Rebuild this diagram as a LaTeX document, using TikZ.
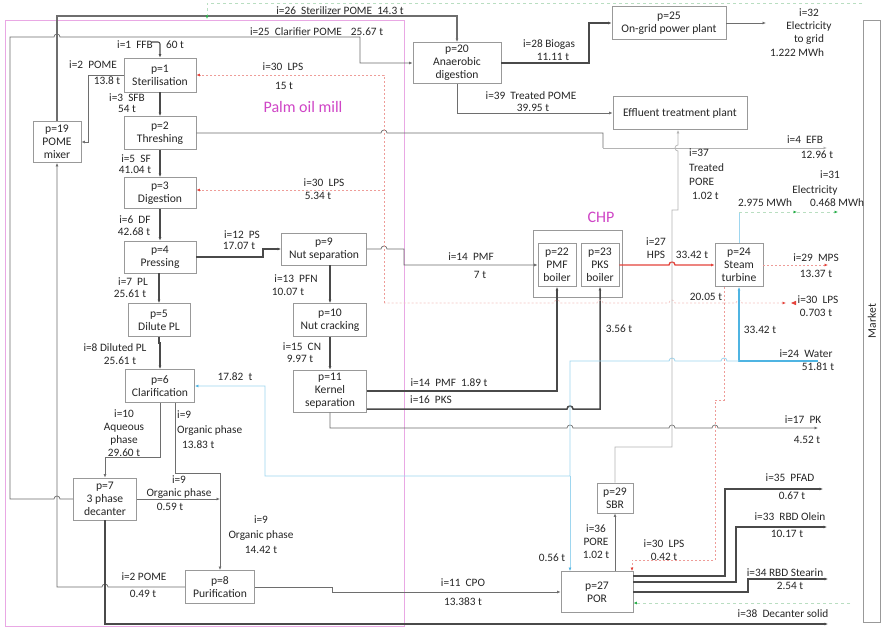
\documentclass[tikz,border=0pt]{standalone}
\usepackage{fontspec}
\setmainfont{Carlito}
\usetikzlibrary{arrows.meta}

\definecolor{ink}{HTML}{262626}
\definecolor{boxline}{HTML}{999999}
\definecolor{pipe}{HTML}{6E6E6E}
\definecolor{pipedark}{HTML}{4A4A4A}
\definecolor{pipefaint}{HTML}{B4B4B4}
\definecolor{millpink}{HTML}{CF45C6}
\definecolor{millframe}{HTML}{E9A8E4}
\definecolor{steam}{HTML}{E4433B}
\definecolor{steamlight}{HTML}{EE9C98}
\definecolor{water}{HTML}{4FB4E2}
\definecolor{waterlight}{HTML}{9ED6EF}
\definecolor{power}{HTML}{25AE48}
\definecolor{powerlight}{HTML}{B9DEC1}

\newcommand\nodefont{\fontsize{11.6}{13}\selectfont}
\newcommand\labfont{\fontsize{11.3}{13}\selectfont}
\newcommand\titlefont{\fontsize{16}{18}\selectfont}

\tikzset{
  proc/.style={draw=boxline, line width=0.9pt, fill=white, align=center,
               inner sep=0pt, font=\nodefont, text=ink},
  lab/.style={align=center, inner sep=0pt, font=\labfont, text=ink},
  labl/.style={align=left, inner sep=0pt, font=\labfont, text=ink},
  title/.style={inner sep=0pt, font=\titlefont, text=millpink},
  thinflow/.style={draw=pipe, line width=0.7pt},
  midflow/.style={draw=pipedark, line width=1.1pt},
  heavyflow/.style={draw=pipedark, line width=1.5pt},
  faintflow/.style={draw=pipefaint, line width=0.7pt},
  hps/.style={draw=steam, line width=1.3pt},
  lps/.style={draw=steamlight, line width=0.8pt, dash pattern=on 2pt off 2pt},
  lpsfaint/.style={draw=steamlight!60, line width=0.7pt, dash pattern=on 2pt off 2pt},
  waterheavy/.style={draw=water, line width=1.5pt},
  waterthin/.style={draw=waterlight, line width=0.8pt},
  powerdash/.style={draw=powerlight, line width=0.7pt, dash pattern=on 3pt off 3pt},
  arr/.style={-{Latex[length=3.5pt,width=3pt]}},
  redarr/.style={-{Latex[length=3.5pt,width=3pt,color=steam]}},
  bluearr/.style={-{Latex[length=3.5pt,width=3pt,color=water]}},
  greenarr/.style={-{Latex[length=3.5pt,width=3pt,color=power]}},
}

\begin{document}
\begin{tikzpicture}[x=1pt,y=-1pt]
\useasboundingbox (0,0) rectangle (885,628);
\fill[white] (0,0) rectangle (885,628);

% ---------- boundaries ----------
\draw[millframe, line width=0.9pt] (5,20) rectangle (404,626);
\node[title] (millname) at (303,107) {Palm oil mill};
\node[title] (chpname) at (601,217) {CHP};
\node[draw=boxline, line width=0.9pt, minimum width=89, minimum height=67] (chp) at (577.5,263.5) {};
\node[proc, rotate=90, minimum width=602, minimum height=17] (market) at (872,321) {Market};

% ---------- process units ----------
\node[proc, minimum width=72, minimum height=34] (p1) at (160,75) {p=1\\Sterilisation};
\node[proc, minimum width=72, minimum height=33] (p2) at (160,133) {p=2\\Threshing};
\node[proc, minimum width=72, minimum height=31] (p3) at (160,193) {p=3\\Digestion};
\node[proc, minimum width=72, minimum height=32] (p4) at (160,257) {p=4\\Pressing};
\node[proc, minimum width=62, minimum height=33] (p5) at (159,320) {p=5\\Dilute PL};
\node[proc, minimum width=69, minimum height=33] (p6) at (160,386) {p=6\\Clarification};
\node[proc, minimum width=63, minimum height=42] (p7) at (105,499) {p=7\\3 phase\\decanter};
\node[proc, minimum width=69, minimum height=33] (p8) at (220,587) {p=8\\Purification};
\node[proc, minimum width=48, minimum height=41] (p19) at (57,142) {p=19\\POME\\mixer};
\node[proc, minimum width=85, minimum height=32] (p9) at (324,249) {p=9\\Nut separation};
\node[proc, minimum width=73, minimum height=33] (p10) at (330,320) {p=10\\Nut cracking};
\node[proc, minimum width=73, minimum height=42] (p11) at (330,391) {p=11\\Kernel\\separation};
\node[proc, minimum width=88, minimum height=41] (p20) at (457,63) {p=20\\Anaerobic\\digestion};
\node[proc, minimum width=114, minimum height=33] (p25) at (669,23) {p=25\\On-grid power plant};
\node[proc, minimum width=134, minimum height=33] (etp) at (680,113) {Effluent treatment plant};
\node[proc, minimum width=38, minimum height=43] (p22) at (557,265) {p=22\\PMF\\boiler};
\node[proc, minimum width=38, minimum height=43] (p23) at (600,265) {p=23\\PKS\\boiler};
\node[proc, minimum width=48, minimum height=43] (p24) at (739,265) {p=24\\Steam\\turbine};
\node[proc, minimum width=36, minimum height=30] (p29) at (615,498) {p=29\\SBR};
\node[proc, minimum width=72, minimum height=41] (p27) at (597,592) {p=27\\POR};

% ---------- free ends and junctions ----------
\coordinate (ffbin) at (152,42);
\coordinate (gridout) at (766,23);
\coordinate (efbturn) at (603,148);
\coordinate (efbout) at (827,148);
\coordinate (mpsout) at (828,265);
\coordinate (lpshub) at (724,303);
\coordinate (lpsjoin) at (384,190);
\coordinate (lpsout) at (786,303);
\coordinate (waterin) at (818,361);
\coordinate (waterjoin) at (739,361);
\coordinate (watersplit) at (570,476);
\coordinate (pkout) at (818,428);
\coordinate (pfadout) at (823,489);
\coordinate (oleinout) at (827,527);
\coordinate (stearinout) at (828,579);
\coordinate (solidout) at (828,624);
\coordinate (orgjoin) at (220,499);
\coordinate (elecA) at (797,212);
\coordinate (elecB) at (838,212);
\coordinate (millpower) at (207,19);
\coordinate (powerfeed) at (862,3);
\coordinate (porpower) at (850,603);

% ---------- palm oil mill line ----------
\draw[midflow, arr, rounded corners=2] (ffbin) -| (p1.north);
\draw[heavyflow, arr] (p1.south) -- (p2.north);
\draw[heavyflow, arr] (p2.south) -- (p3.north);
\draw[heavyflow, arr] (p3.south) -- (p4.north);
\draw[heavyflow, arr] (p4.south -| p5.north) -- (p5.north);
\draw[midflow, arr] (p5.south) -- ++(0,6) -| (p6.north);

% POME streams
\draw[thinflow, arr] (p1.west) -- (88,75) |- (p19.east);
\draw[draw=pipe, line width=1.1pt, arr] (p19.north) -- (57,16) -| (p20.north);
\draw[thinflow, arr] (p7.west) -- (60,499) arc[start angle=0, end angle=-180, radius=3]
  -- (10,499) -- (10,37) -- (54,37) arc[start angle=180, end angle=360, radius=3]
  -- (360,37) -- (360,63) -- (p20.west);
\draw[thinflow, arr] (p8.west) -- (108,587) arc[start angle=0, end angle=-180, radius=3]
  -- (57,587) -- (p19.south);

% nut line
\draw[heavyflow, arr] (p4.east) -- (263,257) -- (263,249) -- (p9.west);
\draw[midflow, arr] (p9.south -| p10.north) -- (p10.north);
\draw[midflow, arr] (p10.south) -- (p11.north);
\draw[thinflow, arr] (p9.east) -- (381,249) arc[start angle=180, end angle=360, radius=3]
  -- (404,249) -- (404,265) -- (p22.west);
\draw[heavyflow, arr] (p11.east) -| (p22.south);
\draw[heavyflow, arr] (p11.east |- 0,409) -- (567,409) arc[start angle=180, end angle=360, radius=3]
  -- (600,409) -- (p23.south);
\draw[thinflow, arr] (p11.south) -- (330,428) -- (567,428) arc[start angle=180, end angle=360, radius=3]
  -- (669,428) arc[start angle=180, end angle=360, radius=3]
  -- (712,428) arc[start angle=180, end angle=360, radius=3] -- (pkout);

% empty fruit bunches
\draw[thinflow] (p2.east) -- (381,133) arc[start angle=180, end angle=360, radius=3]
  -- (603,133) -- (efbturn);
\draw[faintflow, arr] (efbturn) -- (efbout);

% clarification and decanting
\draw[thinflow, arr] (p6.south) -- (160,457) -| (p7.north);
\draw[thinflow, arr] (p6.south -| 175,0) -- (175,473) -| (p8.north);
\draw[thinflow, arr] (p7.east) -- (orgjoin);
\draw[thinflow, arr] (p8.east) -- (332,587) -- (332,592) -- (p27.west);
\draw[heavyflow, arr] (p7.south) -- (105,624) -- (solidout);

% digester, biogas and effluent
\draw[midflow, arr] (p20.east) -- (589,63) |- (p25.west);
\draw[thinflow, arr] (p25.east) -- (gridout);
\draw[thinflow, arr] (p20.south) |- (etp.west);

% ---------- CHP ----------
\draw[hps, redarr] (p23.east) -- (669,265) arc[start angle=180, end angle=360, radius=3] -- (p24.west);
\draw[lps, redarr] (p24.east) -- (mpsout);
\draw[lps] (p24.south -| lpshub) -- (lpshub);
\draw[lpsfaint] (lpshub) -- (675,303) arc[start angle=0, end angle=-180, radius=3]
  -- (603,303) arc[start angle=0, end angle=-180, radius=3]
  -- (560,303) arc[start angle=0, end angle=-180, radius=3] -- (384,303);
\draw[lps, redarr] (384,303) -- (384,75) -- (p1.east);
\draw[lps, redarr] (lpsjoin) -- (p3.east |- lpsjoin);
\draw[lpsfaint, redarr] (lpshub) -- (736,303) arc[start angle=180, end angle=360, radius=3] -- (lpsout);
\fill[steam] (791,303) -- (796,300.8) -- (796,305.2) -- cycle;
\draw[lps, redarr] (lpshub) -- (724,400) -- (715,400) -- (715,560) -- (632,560) -- (p27.north -| 632,0);

% water
\draw[waterheavy, bluearr] (waterin) -- (waterjoin) -- (p24.south);
\draw[waterthin, bluearr] (waterjoin) -- (727,361) arc[start angle=0, end angle=-180, radius=3]
  -- (675,361) arc[start angle=0, end angle=-180, radius=3]
  -- (570,361) -- (watersplit) -- (265,476) -- (265,386) -- (p6.east);
\draw[waterthin, bluearr] (watersplit) -- (p27.north -| watersplit);

% electricity
\draw[waterthin] (p24.north) -- (739,212);
\draw[powerdash, greenarr] (739,212) -- (elecA);
\draw[powerdash, greenarr] (elecA) -- (elecB);
\draw[powerdash, greenarr] (powerfeed) -- (207,3) -- (millpower);
\draw[powerdash, greenarr] (porpower) -- (p27.east |- porpower);

% ---------- refinery ----------
\draw[thinflow, arr] (p27.north -| p29.south) -- (p29.south);
\draw[faintflow, arr] (p29.north) -- (615,447) -- (672,447) -- (672,210) -- (678,210)
  -- (678,151) arc[start angle=90, end angle=270, radius=3] -- (etp.south -| 678,0);
\draw[heavyflow, arr] (p27.east |- 0,576) -- (725,576) -- (725,489) -- (pfadout);
\draw[heavyflow, arr] (p27.east |- 0,582) -- (736,582) -- (736,527) -- (oleinout);
\draw[heavyflow, arr] (p27.east |- 0,592) -- (748,592) -- (748,579) -- (stearinout);

% ---------- stream labels ----------
\node[lab] (t26) at (340,11) {i=26~ Sterilizer POME~ 14.3 t};
\node[lab] (t25) at (296,32) {i=25~ Clarifier POME};
\node[lab] (t25m) at (367,32) {25.67 t};
\node[lab] (t1) at (135,45) {i=1~ FFB};
\node[lab] (t1m) at (175,45) {60 t};
\node[lab] (t2) at (93,65) {i=2~ POME};
\node[lab] (t2m) at (107,81) {13.8 t};
\node[lab] (t30a) at (283,67) {i=30~ LPS};
\node[lab] (t30am) at (284,86) {15 t};
\node[lab] (t3) at (127,98) {i=3~ SFB};
\node[lab] (t3m) at (127,109) {54 t};
\node[lab] (t5) at (136,159) {i=5~ SF};
\node[lab] (t5m) at (135,170) {41.04 t};
\node[lab] (t30b) at (324,183) {i=30~ LPS};
\node[lab] (t30bm) at (318,196) {5.34 t};
\node[lab] (t6) at (135,220) {i=6~ DF};
\node[lab] (t6m) at (134,232) {42.68 t};
\node[lab] (t12) at (242,235) {i=12~ PS};
\node[lab] (t12m) at (239,246) {17.07 t};
\node[lab] (t7) at (133,282) {i=7~ PL};
\node[lab] (t7m) at (130,294) {25.61 t};
\node[lab] (t13) at (296,279) {i=13~ PFN};
\node[lab] (t13m) at (288,292) {10.07 t};
\node[lab] (t8) at (115,348) {i=8 Diluted PL};
\node[lab] (t8m) at (120,361) {25.61 t};
\node[lab] (t15) at (302,347) {i=15~ CN};
\node[lab] (t15m) at (300,359) {9.97 t};
\node[lab] (tw6) at (235,377) {17.82~ t};
\node[lab] (t10) at (124,433) {i=10\\Aqueous\\phase\\29.60 t};
\node[labl, anchor=north west] (t9a) at (177,411) {i=9\\[2pt]Organic phase\\[2pt]\hspace{5pt}13.83 t};
\node[lab] (t9b) at (179,487) {i=9\\Organic phase};
\node[lab] (t9bm) at (170,507) {0.59 t};
\node[lab, text depth=0pt] (t9c) at (261,535) {i=9\\[2pt]Organic phase\\[2pt]14.42 t};
\node[lab] (t2b) at (144,577) {i=2 POME};
\node[lab] (t2bm) at (143,594) {0.49 t};
\node[lab] (t11) at (463,583) {i=11~ CPO};
\node[lab] (t11m) at (463,602) {13.383 t};
\node[lab] (t14a) at (471,257) {i=14~ PMF};
\node[lab] (t14am) at (480,275) {7 t};
\node[lab] (t14b) at (449,383) {i=14~ PMF~ 1.89 t};
\node[lab] (t16) at (431,400) {i=16~ PKS};
\node[lab] (t28) at (549,45) {i=28 Biogas};
\node[lab] (t28m) at (553,57) {11.11 t};
\node[lab] (t39) at (531,96) {i=39~ Treated POME};
\node[lab] (t39m) at (533,108) {39.95 t};
\node[lab] (t32) at (809,27) {i=32\\Electricity\\to grid};
\node[lab] (t32m) at (797,53) {1.222 MWh};
\node[labl, anchor=north west] (t37) at (689,149) {i=37\\[1.5pt]Treated\\[1.5pt]PORE\\[1pt]\hspace{3pt}1.02 t};
\node[lab] (t4) at (805,140) {i=4~ EFB};
\node[lab] (t4m) at (817,155) {12.96 t};
\node[lab] (t31) at (830,175) {i=31};
\node[lab] (t31e) at (815,190) {Electricity};
\node[lab] (t31a) at (765,203) {2.975 MWh};
\node[lab] (t31b) at (837,203) {0.468 MWh};
\node[lab] (t27) at (656,248) {i=27\\HPS};
\node[lab] (t27m) at (692,255) {33.42 t};
\node[lab] (t29) at (816,258) {i=29~ MPS};
\node[lab] (t29m) at (816,274) {13.37 t};
\node[lab] (t30c) at (818,300) {i=30~ LPS};
\node[lab] (t30cm) at (816,313) {0.703 t};
\node[lab] (tlps) at (706,297) {20.05 t};
\node[lab] (twt) at (760,330) {33.42 t};
\node[lab] (tpks) at (619,329) {3.56 t};
\node[lab] (t24) at (806,354) {i=24~ Water};
\node[lab] (t24m) at (818,367) {51.81 t};
\node[lab] (t17) at (803,420) {i=17~ PK};
\node[lab] (t17m) at (807,440) {4.52 t};
\node[lab] (t35) at (790,478) {i=35~ PFAD};
\node[lab] (t35m) at (792,496) {0.67 t};
\node[lab] (t33) at (790,517) {i=33~ RBD Olein};
\node[lab] (t33m) at (787,534) {10.17 t};
\node[lab] (t34) at (785,573) {i=34 RBD Stearin};
\node[lab] (t34m) at (790,586) {2.54 t};
\node[lab] (t38) at (783,614) {i=38~ Decanter solid};
\node[lab] (t36) at (596,542) {i=36\\PORE\\1.02 t};
\node[lab] (tw27) at (552,558) {0.56 t};
\node[lab] (t30d) at (664,550) {i=30~ LPS\\0.42 t};
\end{tikzpicture}
\end{document}
